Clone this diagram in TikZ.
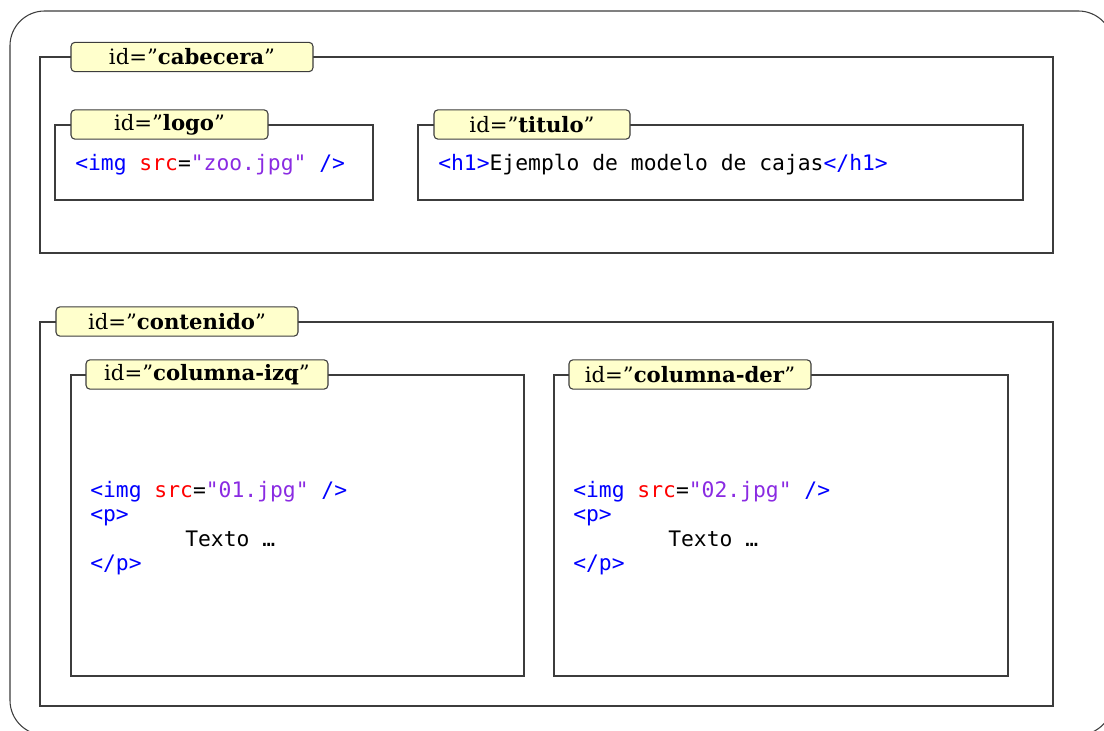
\documentclass[tikz,border=0pt]{standalone}
\usepackage{fontspec}
\setmainfont{DejaVu Serif}
\setmonofont{DejaVu Sans Mono}
\usetikzlibrary{fit}
\definecolor{tagc}{RGB}{0,0,255}
\definecolor{attc}{RGB}{255,0,0}
\definecolor{strc}{RGB}{138,43,226}
\definecolor{lblfill}{RGB}{255,255,204}
\definecolor{linec}{RGB}{60,60,60}
\newcommand{\tg}[1]{\textcolor{tagc}{#1}}
\newcommand{\at}[1]{\textcolor{attc}{#1}}
\newcommand{\st}[1]{\textcolor{strc}{#1}}
\tikzset{
  box/.style={draw=linec, line width=0.8pt, inner sep=0pt},
  lbl/.style={draw=linec, line width=0.8pt, fill=lblfill, rounded corners=3pt,
    minimum height=22pt, inner sep=0pt, font=\fontsize{15.9}{18}\selectfont},
  code/.style={anchor=base west, inner sep=0pt, font=\ttfamily\fontsize{16}{18}\selectfont},
}
\begin{document}
\begin{tikzpicture}[x=0.75pt, y=-0.75pt]
\useasboundingbox (0,0) rectangle (1104,731);
\clip (0,0) rectangle (1104,731);
% outer frame
\node[box, rounded corners=26pt, fit={(10,11) (1113,735)}] (page) {};
% cabecera
\node[box, fit={(40,57) (1053,253)}] (cabecera) {};
\node[lbl, minimum width=181.5pt] (cabeceralbl) at (192,57) {id=”\textbf{cabecera}”};
% logo
\node[box, fit={(55,125) (373,200)}] (logo) {};
\node[lbl, minimum width=147.75pt] (logolbl) at (169.5,124.5) {id=”\textbf{logo}”};
\node[code] (logocode) at (75,171) {\tg{<img} \at{src}=\st{"zoo.jpg"} \tg{/>}};
% titulo
\node[box, fit={(418,125) (1023,200)}] (titulo) {};
\node[lbl, minimum width=147pt] (titulolbl) at (532,124.5) {id=”\textbf{titulo}”};
\node[code] (titulocode) at (438,171) {\tg{<h1>}Ejemplo de modelo de cajas\tg{</h1>}};
% contenido
\node[box, fit={(40,322) (1053,706)}] (contenido) {};
\node[lbl, minimum width=181.5pt] (contenidolbl) at (177,321.5) {id=”\textbf{contenido}”};
% columna izq
\node[box, fit={(71,375) (524,676)}] (izq) {};
\node[lbl, minimum width=181.5pt] (izqlbl) at (207,374.5) {id=”\textbf{columna-izq}”};
\node[code] (izq1) at (90,497) {\tg{<img} \at{src}=\st{"01.jpg"} \tg{/>}};
\node[code] (izq2) at (90,521.5) {\tg{<p>}};
\node[code] (izq3) at (185,546) {Texto …};
\node[code] (izq4) at (90,570) {\tg{</p>}};
% columna der
\node[box, fit={(554,375) (1008,676)}] (der) {};
\node[lbl, minimum width=181.5pt] (derlbl) at (690,374.5) {id=”\textbf{columna-der}”};
\node[code] (der1) at (573,497) {\tg{<img} \at{src}=\st{"02.jpg"} \tg{/>}};
\node[code] (der2) at (573,521.5) {\tg{<p>}};
\node[code] (der3) at (668,546) {Texto …};
\node[code] (der4) at (573,570) {\tg{</p>}};
\end{tikzpicture}
\end{document}
